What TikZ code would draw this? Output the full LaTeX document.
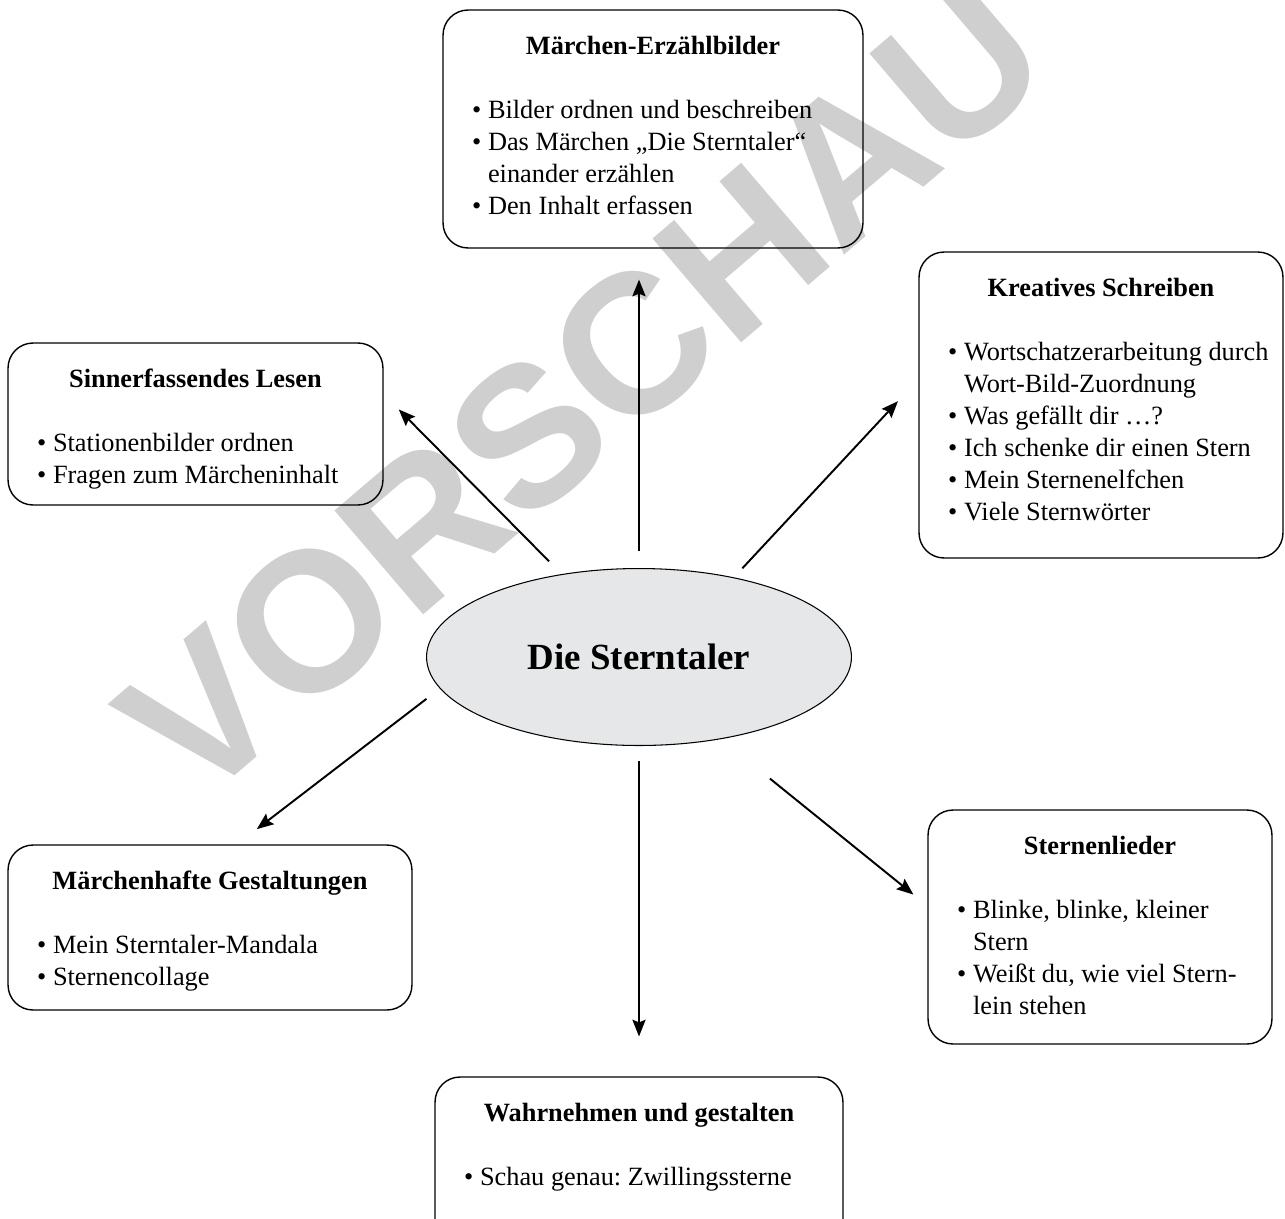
\documentclass[tikz,border=0pt]{standalone}
\usepackage{fontspec}
\setmainfont{Liberation Serif}
\newfontfamily\wzfont{Liberation Sans}
\usetikzlibrary{arrows.meta, shapes.geometric, positioning}
\definecolor{wzgrau}{RGB}{207,207,207}
\definecolor{ellgrau}{RGB}{230,231,232}
\frenchspacing
\tikzset{
    >={Stealth[length=9.5pt, width=7.5pt, inset=1.5pt]}, % arrow heads
    kasten/.style={draw, rounded corners=0.5cm, inner sep=0pt, line width=0.8pt,
        font=\fontsize{15}{18.14}\selectfont}, % the six boxes
    pfeil/.style={draw, ->, line width=1.1pt}, % connectors
}
% box content: width, height, title, bullets
\newcommand{\kasteninhalt}[4]{%
  \begin{minipage}[t][#2][t]{#1}
    \centering\rule{0pt}{0.88cm}\textbf{#3}\par
    \vspace{18.7pt}
    \raggedright\leftskip=0.58cm
    \let\\\newline
    #4
  \end{minipage}}
\newcommand{\punkt}[1]{\par\hangindent=0.32cm\hangafter=1\noindent\makebox[0.32cm][l]{\textbullet}#1}

\begin{document}
\begin{tikzpicture}[x=0.02cm, y=-0.02cm]
    \useasboundingbox (0,0) rectangle (1285,1218);

    % watermark
    \node[text=wzgrau, rotate=40.5, anchor=base, font=\wzfont\bfseries\fontsize{113}{113}\selectfont] (vorschau) at (627,441) {VORSCHAU};

    \node[ellipse, draw, fill=ellgrau, line width=0.6pt, inner sep=0pt,
          minimum width=8.5cm, minimum height=3.54cm,
          font=\bfseries\fontsize{21}{25}\selectfont] (ell) at (639,657) {Die Sterntaler};

    \node[kasten] (erzaehl) at (653,129) {\kasteninhalt{8.4cm}{4.76cm}{Märchen-Erzählbilder}{%
        \punkt{Bilder ordnen und beschreiben}
        \punkt{Das Märchen „Die Sterntaler“\\einander erzählen}
        \punkt{Den Inhalt erfassen}}};
    \node[kasten] (lesen) at (195.5,424) {\kasteninhalt{7.5cm}{3.24cm}{Sinnerfassendes Lesen}{%
        \punkt{Stationenbilder ordnen}
        \punkt{Fragen zum Märcheninhalt}}};
    \node[kasten] (schreiben) at (1101,405) {\kasteninhalt{7.28cm}{6.12cm}{Kreatives Schreiben}{%
        \punkt{Wortschatzerarbeitung durch\\Wort-Bild-Zuordnung}
        \punkt{Was gefällt dir …?}
        \punkt{Ich schenke dir einen Stern}
        \punkt{Mein Sternenelfchen}
        \punkt{Viele Sternwörter}}};
    \node[kasten] (gestalt) at (210,927.5) {\kasteninhalt{8.08cm}{3.3cm}{Märchenhafte Gestaltungen}{%
        \punkt{Mein Sterntaler-Mandala}
        \punkt{Sternencollage}}};
    \node[kasten] (lieder) at (1100,927) {\kasteninhalt{6.88cm}{4.68cm}{Sternenlieder}{%
        \punkt{Blinke, blinke, kleiner\\Stern}
        \punkt{Weißt du, wie viel Stern-\\lein stehen}}};
    \node[kasten] (wahrnehmen) at (639,1167) {\kasteninhalt{8.16cm}{3.6cm}{Wahrnehmen und gestalten}{%
        \punkt{Schau genau: Zwillingssterne}}};

    \path
        (ell.north) edge[pfeil, shorten <=9.4pt, shorten >=17.6pt] (ell.north |- erzaehl.south)
        (ell.south) edge[pfeil, shorten <=8.8pt, shorten >=22.7pt] (ell.south |- wahrnehmen.north)
        (ell.133.7) edge[pfeil, shorten <=10.2pt, shorten >=12.2pt] (lesen.9)
        (ell.40.9) edge[pfeil, shorten <=7pt, shorten >=17pt] (schreiben.172.8)
        (ell.189.6) edge[pfeil, shorten <=9.6pt, shorten >=14.2pt] (gestalt.72.5)
        (ell.-45.5) edge[pfeil, shorten <=35.7pt, shorten >=10.2pt] (lieder.173.4);
\end{tikzpicture}
\end{document}
